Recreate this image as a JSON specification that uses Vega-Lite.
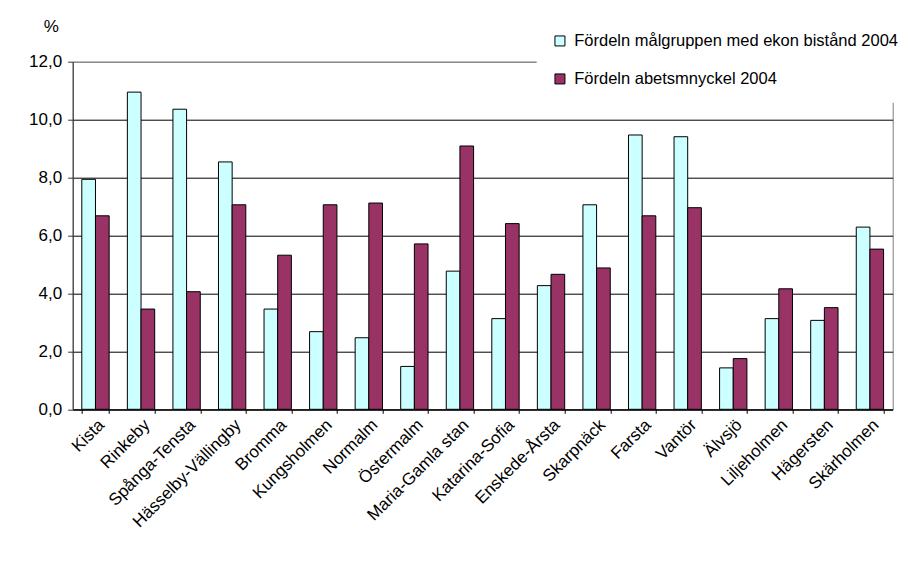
{
  "$schema": "https://vega.github.io/schema/vega-lite/v6.json",
  "autosize": "none",
  "width": 820,
  "height": 347.6,
  "padding": {"left": 72.7, "top": 61.7, "right": 17.3, "bottom": 151.7},
  "background": "white",
  "config": {
    "font": "Liberation Sans",
    "view": {"stroke": "#808080", "strokeWidth": 1}
  },
  "data": {
    "values": [
      {"district": "Kista", "series": "Fördeln målgruppen med ekon bistånd 2004", "value": 7.94},
      {"district": "Kista", "series": "Fördeln abetsmnyckel 2004", "value": 6.68},
      {"district": "Rinkeby", "series": "Fördeln målgruppen med ekon bistånd 2004", "value": 10.95},
      {"district": "Rinkeby", "series": "Fördeln abetsmnyckel 2004", "value": 3.46},
      {"district": "Spånga-Tensta", "series": "Fördeln målgruppen med ekon bistånd 2004", "value": 10.36},
      {"district": "Spånga-Tensta", "series": "Fördeln abetsmnyckel 2004", "value": 4.06},
      {"district": "Hässelby-Vällingby", "series": "Fördeln målgruppen med ekon bistånd 2004", "value": 8.54},
      {"district": "Hässelby-Vällingby", "series": "Fördeln abetsmnyckel 2004", "value": 7.06},
      {"district": "Bromma", "series": "Fördeln målgruppen med ekon bistånd 2004", "value": 3.46},
      {"district": "Bromma", "series": "Fördeln abetsmnyckel 2004", "value": 5.32},
      {"district": "Kungsholmen", "series": "Fördeln målgruppen med ekon bistånd 2004", "value": 2.68},
      {"district": "Kungsholmen", "series": "Fördeln abetsmnyckel 2004", "value": 7.06},
      {"district": "Normalm", "series": "Fördeln målgruppen med ekon bistånd 2004", "value": 2.47},
      {"district": "Normalm", "series": "Fördeln abetsmnyckel 2004", "value": 7.12},
      {"district": "Östermalm", "series": "Fördeln målgruppen med ekon bistånd 2004", "value": 1.48},
      {"district": "Östermalm", "series": "Fördeln abetsmnyckel 2004", "value": 5.71},
      {"district": "Maria-Gamla stan", "series": "Fördeln målgruppen med ekon bistånd 2004", "value": 4.77},
      {"district": "Maria-Gamla stan", "series": "Fördeln abetsmnyckel 2004", "value": 9.09},
      {"district": "Katarina-Sofia", "series": "Fördeln målgruppen med ekon bistånd 2004", "value": 3.13},
      {"district": "Katarina-Sofia", "series": "Fördeln abetsmnyckel 2004", "value": 6.41},
      {"district": "Enskede-Årsta", "series": "Fördeln målgruppen med ekon bistånd 2004", "value": 4.27},
      {"district": "Enskede-Årsta", "series": "Fördeln abetsmnyckel 2004", "value": 4.66},
      {"district": "Skarpnäck", "series": "Fördeln målgruppen med ekon bistånd 2004", "value": 7.06},
      {"district": "Skarpnäck", "series": "Fördeln abetsmnyckel 2004", "value": 4.88},
      {"district": "Farsta", "series": "Fördeln målgruppen med ekon bistånd 2004", "value": 9.47},
      {"district": "Farsta", "series": "Fördeln abetsmnyckel 2004", "value": 6.68},
      {"district": "Vantör", "series": "Fördeln målgruppen med ekon bistånd 2004", "value": 9.41},
      {"district": "Vantör", "series": "Fördeln abetsmnyckel 2004", "value": 6.96},
      {"district": "Älvsjö", "series": "Fördeln målgruppen med ekon bistånd 2004", "value": 1.43},
      {"district": "Älvsjö", "series": "Fördeln abetsmnyckel 2004", "value": 1.75},
      {"district": "Liljeholmen", "series": "Fördeln målgruppen med ekon bistånd 2004", "value": 3.13},
      {"district": "Liljeholmen", "series": "Fördeln abetsmnyckel 2004", "value": 4.16},
      {"district": "Hägersten", "series": "Fördeln målgruppen med ekon bistånd 2004", "value": 3.07},
      {"district": "Hägersten", "series": "Fördeln abetsmnyckel 2004", "value": 3.51},
      {"district": "Skärholmen", "series": "Fördeln målgruppen med ekon bistånd 2004", "value": 6.29},
      {"district": "Skärholmen", "series": "Fördeln abetsmnyckel 2004", "value": 5.53}
    ]
  },
  "mark": {"type": "bar", "stroke": "black", "strokeWidth": 1},
  "encoding": {
    "x": {
      "field": "district",
      "type": "nominal",
      "sort": null,
      "scale": {"paddingInner": 0.4, "paddingOuter": 0.2},
      "axis": {
        "title": null,
        "labelAngle": -45,
        "labelAlign": "right",
        "labelBaseline": "top",
        "labelFontSize": 17,
        "labelColor": "black",
        "labelOverlap": false,
        "labelPadding": 3,
        "tickBand": "extent",
        "tickSize": 4,
        "tickColor": "black",
        "domainColor": "black",
        "grid": false
      }
    },
    "xOffset": {
      "field": "series",
      "type": "nominal",
      "scale": {"domain": ["Fördeln målgruppen med ekon bistånd 2004", "Fördeln abetsmnyckel 2004"], "paddingInner": 0, "paddingOuter": 0}
    },
    "y": {
      "field": "value",
      "type": "quantitative",
      "scale": {"domain": [0, 12], "nice": false},
      "axis": {
        "values": [0, 2, 4, 6, 8, 10, 12],
        "labelExpr": "replace(format(datum.value, '.1f'), '.', ',')",
        "labelFontSize": 17,
        "labelColor": "black",
        "labelPadding": 6,
        "tickSize": 5,
        "tickColor": "#333333",
        "domainColor": "#333333",
        "grid": true,
        "gridColor": {"condition": {"test": "datum.value == 12", "value": "#808080"}, "value": "black"},
        "gridOpacity": 1,
        "title": "%",
        "titleAngle": 0,
        "titleFontSize": 17,
        "titleFontWeight": "normal",
        "titleColor": "black",
        "titleAlign": "center",
        "titleBaseline": "middle",
        "titleX": -22,
        "titleY": -35
      }
    },
    "color": {
      "field": "series",
      "type": "nominal",
      "scale": {"domain": ["Fördeln målgruppen med ekon bistånd 2004", "Fördeln abetsmnyckel 2004"], "range": ["#CCFFFF", "#993366"]},
      "legend": {
        "title": null,
        "orient": "none",
        "legendX": 464,
        "legendY": -44,
        "padding": 15,
        "fillColor": "white",
        "symbolType": "square",
        "symbolSize": 100,
        "symbolStrokeColor": "black",
        "symbolStrokeWidth": 1,
        "symbolOpacity": 1,
        "labelFontSize": 16.5,
        "labelColor": "black",
        "labelOffset": 6,
        "labelLimit": 400,
        "rowPadding": 21
      }
    }
  }
}
